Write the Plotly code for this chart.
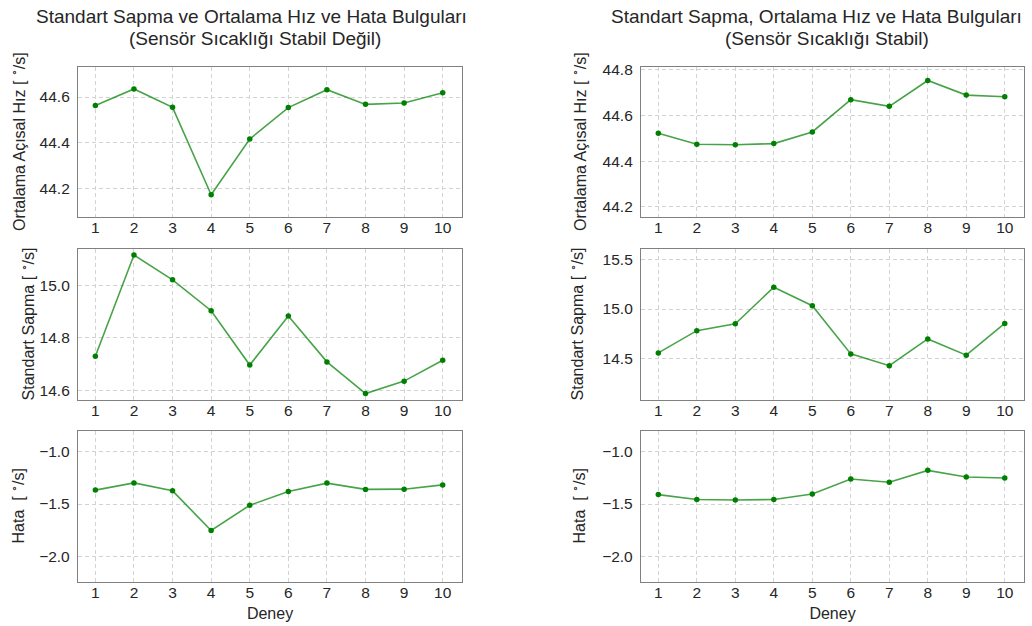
import plotly.graph_objects as go

# Experiment numbers
deney = list(range(1, 11))

# Sensor temperature not stable
ort_hiz_degisken = [44.563, 44.635, 44.555, 44.174, 44.417, 44.554, 44.632, 44.568, 44.574, 44.619]
std_sapma_degisken = [14.730, 15.114, 15.020, 14.903, 14.697, 14.883, 14.709, 14.589, 14.636, 14.715]
hata_degisken = [-1.367, -1.298, -1.374, -1.753, -1.512, -1.380, -1.300, -1.360, -1.358, -1.317]

# Sensor temperature stable
ort_hiz_stabil = [44.522, 44.474, 44.472, 44.477, 44.528, 44.669, 44.640, 44.753, 44.689, 44.682]
std_sapma_stabil = [14.556, 14.781, 14.851, 15.221, 15.033, 14.546, 14.426, 14.697, 14.533, 14.854]
hata_stabil = [-1.410, -1.457, -1.461, -1.457, -1.404, -1.261, -1.292, -1.178, -1.242, -1.251]

title_lines = [
    ["Standart Sapma ve Ortalama Hız ve Hata Bulguları", "(Sensör Sıcaklığı Stabil Değil)"],
    ["Standart Sapma, Ortalama Hız ve Hata Bulguları", "(Sensör Sıcaklığı Stabil)"],
]
y_labels = [
    "Ortalama Açısal Hız [ <sup>∘</sup>/s]",
    "Standart Sapma [ <sup>∘</sup>/s]",
    "Hata  [ <sup>∘</sup>/s]",
]
x_label = "Deney"

W, H = 1032, 626
FONT = "Liberation Sans, Arial, sans-serif"
TXT = "#262626"


def px_x(p):
    return p / W


def px_y(p):
    return (H - p) / H


# panel geometry (pixels)
col_x = [(78, 462), (641, 1024)]
row_y = [(62, 214), (245.7, 398.3), (429.3, 581.7)]

series = [
    [ort_hiz_degisken, std_sapma_degisken, hata_degisken],
    [ort_hiz_stabil, std_sapma_stabil, hata_stabil],
]
y_ranges = [
    [(44.076, 44.733), (14.564, 15.138), (-2.247, -0.80)],
    [(44.155, 44.814), (14.078, 15.61), (-2.247, -0.80)],
]
y_ticks = [
    [[44.2, 44.4, 44.6], [14.6, 14.8, 15.0], [-2.0, -1.5, -1.0]],
    [[44.2, 44.4, 44.6, 44.8], [14.5, 15.0, 15.5], [-2.0, -1.5, -1.0]],
]
ylabel_x = [[18, 28, 18], [579, 577, 579]]
# centre x and middle y of each title line (pixels)
title_pos = [[(251.5, 12), (255, 33.5)], [(816.5, 12), (827, 33.5)]]

fig = go.Figure()
annotations = []
layout_axes = {}

idx = 0
for c in range(2):
    for r in range(3):
        idx += 1
        xa = "x" if idx == 1 else f"x{idx}"
        ya = "y" if idx == 1 else f"y{idx}"
        fig.add_trace(go.Scatter(
            x=deney, y=series[c][r], xaxis=xa, yaxis=ya,
            mode="lines", line=dict(color="rgba(0,128,0,0.72)", width=1.6),
            showlegend=False, hoverinfo="skip",
        ))
        fig.add_trace(go.Scatter(
            x=deney, y=series[c][r], xaxis=xa, yaxis=ya,
            mode="markers", marker=dict(color="#008000", size=5.5),
            showlegend=False,
        ))
        x0, x1 = col_x[c]
        y0, y1 = row_y[r]
        common = dict(
            showline=True, mirror=True, linecolor="#808080", linewidth=1.3,
            showgrid=True, gridcolor="#d3d3d3", griddash="4px,3px", gridwidth=1,
            zeroline=False, ticks="",
            tickfont=dict(family=FONT, size=15.5, color=TXT),
        )
        xaxis = dict(
            domain=[px_x(x0), px_x(x1)], anchor=ya, range=[0.55, 10.5],
            tickmode="array", tickvals=deney, ticktext=[str(d) for d in deney],
            ticklabelstandoff=-4,
            **common,
        )
        if r == 2:
            xaxis["title"] = dict(text=x_label, standoff=7,
                                  font=dict(family=FONT, size=16, color=TXT))
        layout_axes["xaxis" if idx == 1 else f"xaxis{idx}"] = xaxis
        layout_axes["yaxis" if idx == 1 else f"yaxis{idx}"] = dict(
            domain=[px_y(y1), px_y(y0)], anchor=xa, range=list(y_ranges[c][r]),
            tickmode="array", tickvals=y_ticks[c][r],
            ticktext=[f"{v:.1f}".replace("-", "−") for v in y_ticks[c][r]],
            ticklabelstandoff=4,
            **common,
        )
        annotations.append(dict(
            text=y_labels[r], textangle=-90, showarrow=False,
            xref="paper", yref="paper",
            x=px_x(ylabel_x[c][r]), y=px_y((y0 + y1) / 2),
            xanchor="center", yanchor="middle",
            font=dict(family=FONT, size=16, color=TXT),
        ))
    for line, (tx, ty) in zip(title_lines[c], title_pos[c]):
        annotations.append(dict(
            text=line, showarrow=False, xref="paper", yref="paper",
            x=px_x(tx), y=px_y(ty), xanchor="center", yanchor="middle",
            borderpad=0, font=dict(family=FONT, size=19, color=TXT),
        ))

fig.update_layout(
    width=W, height=H, margin=dict(l=0, r=0, t=0, b=0),
    paper_bgcolor="white", plot_bgcolor="white",
    annotations=annotations, **layout_axes,
)

fig.write_html("out.html")
